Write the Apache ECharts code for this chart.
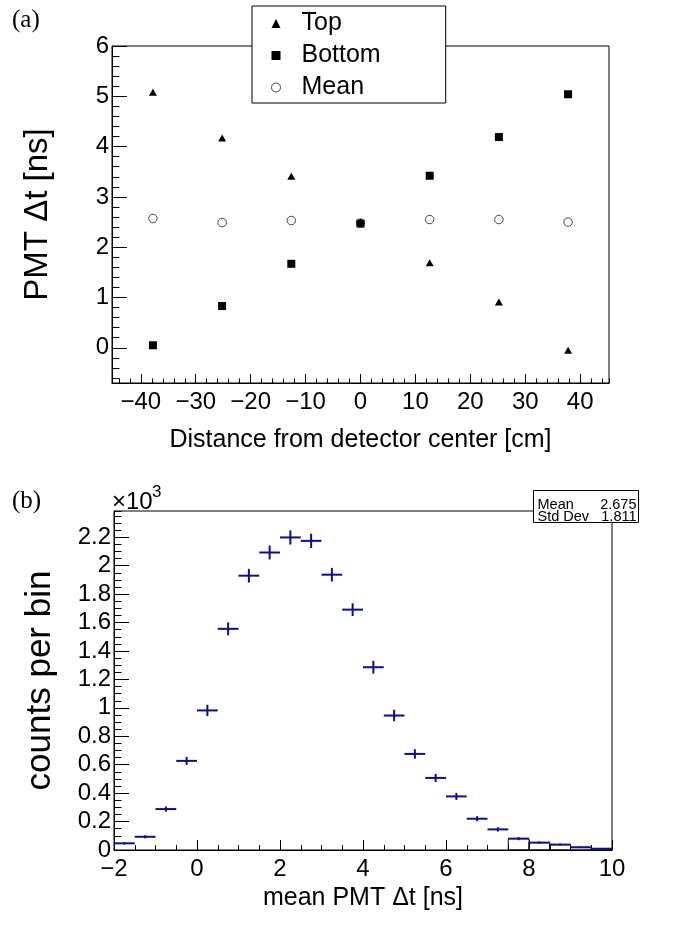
<!DOCTYPE html>
<html>
<head>
<meta charset="utf-8">
<script src="https://cdn.jsdelivr.net/npm/echarts@6/dist/echarts.min.js"></script>
<style>html,body{margin:0;padding:0;background:#fff}#c{width:685px;height:925px}</style>
</head>
<body>
<div id="c"></div>
<script>
// ---- Panel (a) data ----
const positions = [-37.8, -25.2, -12.6, 0, 12.6, 25.2, 37.8];
const topDt     = [5.08, 4.17, 3.41, 2.50, 1.69, 0.91, -0.05];
const bottomDt  = [0.05, 0.83, 1.67, 2.47, 3.42, 4.19, 5.04];
const meanDt    = [2.57, 2.49, 2.53, 2.48, 2.55, 2.55, 2.50];
const seriesNames = ['Top', 'Bottom', 'Mean'];

// ---- Panel (b) data (counts in units of 10^3) ----
const binCenters = [-1.75,-1.25,-0.75,-0.25,0.25,0.75,1.25,1.75,2.25,2.75,3.25,3.75,4.25,4.75,5.25,5.75,6.25,6.75,7.25,7.75,8.25,8.75,9.25,9.75];
const counts     = [0.047,0.093,0.288,0.627,0.982,1.556,1.930,2.093,2.199,2.175,1.937,1.691,1.286,0.946,0.676,0.507,0.377,0.220,0.145,0.080,0.052,0.038,0.019,0.009];
const countErrs  = [0.008,0.011,0.018,0.028,0.040,0.045,0.048,0.049,0.050,0.050,0.048,0.045,0.045,0.040,0.033,0.029,0.025,0.018,0.015,0.011,0.008,0.007,0.005,0.004];
const outlineCenters = [7.75, 8.25, 8.75, 9.25, 9.75];
const binWidth = 0.5;
const statsLabels = ['Mean', 'Std Dev'];
const statsValues = ['2.675', '1.811'];

const FONT = 'Liberation Sans';
const BLUE = '#0d0d8f';
const minus = v => String(v).replace('-', '\u2212');

const chart = echarts.init(document.getElementById('c'), null, {renderer: 'canvas'});

const tickLbl = (extra) => Object.assign({
  color: '#000', fontFamily: FONT, fontSize: 24
}, extra);

function mainAxis(base) {
  return Object.assign({
    type: 'value', scale: false,
    axisLine: {show: true, onZero: false, lineStyle: {color: '#000', width: 1}},
    splitLine: {show: false},
    minorTick: {show: false}
  }, base);
}
function minorAxis(base) {
  return Object.assign({
    type: 'value',
    axisLine: {show: false, onZero: false},
    axisLabel: {show: false},
    splitLine: {show: false}
  }, base);
}

const histData = binCenters.map((c, i) => [c, counts[i], countErrs[i]]);
const outlineData = outlineCenters.map(c => [c, counts[binCenters.indexOf(c)]]);

const option = {
  backgroundColor: '#fff',
  animation: false,
  grid: [
    {left: 112, top: 46, width: 497, height: 337, show: true, borderColor: '#000', borderWidth: 1, backgroundColor: 'transparent'},
    {left: 114, top: 511, width: 498, height: 339, show: true, borderColor: '#000', borderWidth: 1, backgroundColor: 'transparent'}
  ],
  xAxis: [
    mainAxis({gridIndex: 0, position: 'bottom', min: -45.25, max: 45.25, splitNumber: 9,
      axisTick: {show: true, inside: true, length: 9, lineStyle: {color: '#000', width: 1}},
      axisLabel: tickLbl({margin: 7, showMinLabel: false, showMaxLabel: false, formatter: minus}),
      name: 'Distance from detector center [cm]', nameLocation: 'middle', nameGap: 45,
      nameTextStyle: {color: '#000', fontFamily: FONT, fontSize: 25}}),
    minorAxis({gridIndex: 0, position: 'bottom', min: -45.25, max: 45.25, splitNumber: 45,
      axisTick: {show: true, inside: true, length: 4.5, lineStyle: {color: '#000', width: 1}}}),
    mainAxis({gridIndex: 1, position: 'bottom', min: -2, max: 10, interval: 2,
      axisTick: {show: true, inside: true, length: 10, lineStyle: {color: '#000', width: 1}},
      axisLabel: tickLbl({margin: 7, formatter: minus}),
      name: 'mean PMT \u0394t [ns]', nameLocation: 'middle', nameGap: 36,
      nameTextStyle: {color: '#000', fontFamily: FONT, fontSize: 25}}),
    minorAxis({gridIndex: 1, position: 'bottom', min: -2, max: 10, interval: 0.5,
      axisTick: {show: true, inside: true, length: 5, lineStyle: {color: '#000', width: 1}}})
  ],
  yAxis: [
    mainAxis({gridIndex: 0, position: 'left', min: -0.7, max: 6, splitNumber: 7,
      axisTick: {show: true, inside: true, length: 15, lineStyle: {color: '#000', width: 1}},
      axisLabel: tickLbl({margin: 3, showMinLabel: false, formatter: minus}),
      name: 'PMT \u0394t [ns]', nameLocation: 'middle', nameGap: 58,
      nameTextStyle: {color: '#000', fontFamily: FONT, fontSize: 33}}),
    minorAxis({gridIndex: 0, position: 'left', min: -0.7, max: 6, splitNumber: 33,
      axisTick: {show: true, inside: true, length: 7.5, lineStyle: {color: '#000', width: 1}}}),
    mainAxis({gridIndex: 1, position: 'left', min: 0, max: 2.385, interval: 0.2,
      axisTick: {show: true, inside: true, length: 15, lineStyle: {color: '#000', width: 1}},
      axisLabel: tickLbl({margin: 3, showMaxLabel: false, formatter: v => String(Math.round(v * 10) / 10)}),
      name: 'counts per bin', nameLocation: 'middle', nameGap: 56,
      nameTextStyle: {color: '#000', fontFamily: FONT, fontSize: 35}}),
    minorAxis({gridIndex: 1, position: 'left', min: 0, max: 2.385, interval: 0.05,
      axisTick: {show: true, inside: true, length: 7.5, lineStyle: {color: '#000', width: 1}}})
  ],
  legend: {
    show: true, orient: 'vertical', left: 252, top: 6,
    data: seriesNames,
    backgroundColor: '#fff', borderColor: '#000', borderWidth: 1, borderRadius: 0,
    padding: [5, 65, 3, 19],
    itemWidth: 9, itemHeight: 9, itemGap: 7, itemStyle: {borderWidth: 1},
    textStyle: {color: '#000', fontFamily: FONT, fontSize: 25, lineHeight: 25, padding: [0, 0, 0, 16]},
    selectedMode: false
  },
  series: [
    {name: 'Mean', type: 'scatter', xAxisIndex: 0, yAxisIndex: 0, z: 2,
      symbol: 'circle', symbolSize: 8.5,
      itemStyle: {color: '#fff', borderColor: '#444', borderWidth: 1, opacity: 1},
      data: positions.map((x, i) => [x, meanDt[i]])},
    {name: 'Top', type: 'scatter', xAxisIndex: 0, yAxisIndex: 0, z: 3,
      symbol: 'triangle', symbolSize: [8, 7],
      itemStyle: {color: '#000', opacity: 1},
      data: positions.map((x, i) => [x, topDt[i]])},
    {name: 'Bottom', type: 'scatter', xAxisIndex: 0, yAxisIndex: 0, z: 4,
      symbol: 'rect', symbolSize: 8,
      itemStyle: {color: '#000', opacity: 1},
      data: positions.map((x, i) => [x, bottomDt[i]])},
    {name: 'outline', type: 'custom', xAxisIndex: 2, yAxisIndex: 2, z: 3, silent: true,
      encode: {x: 0, y: 1},
      data: outlineData,
      renderItem(params, api) {
        const c = api.value(0), v = api.value(1);
        const p0 = api.coord([c - binWidth / 2, v]);
        const p1 = api.coord([c + binWidth / 2, 0]);
        return {type: 'rect', shape: {x: p0[0], y: p0[1], width: p1[0] - p0[0], height: p1[1] - p0[1]},
          style: {fill: 'none', stroke: '#000', lineWidth: 1}};
      }},
    {name: 'hist', type: 'custom', xAxisIndex: 2, yAxisIndex: 2, z: 5, silent: true,
      encode: {x: 0, y: 1},
      data: histData,
      renderItem(params, api) {
        const c = api.value(0), v = api.value(1), e = api.value(2);
        const pl = api.coord([c - binWidth / 2, v]);
        const pr = api.coord([c + binWidth / 2, v]);
        const pt = api.coord([c, v + e]);
        const pb = api.coord([c, v - e]);
        const st = {stroke: BLUE, lineWidth: 2};
        return {type: 'group', children: [
          {type: 'line', shape: {x1: pl[0], y1: pl[1], x2: pr[0], y2: pr[1]}, style: st},
          {type: 'line', shape: {x1: pt[0], y1: pt[1], x2: pb[0], y2: pb[1]}, style: st}
        ]};
      }}
  ],
  graphic: [
    {type: 'text', left: 12, top: 8, style: {text: '(a)', font: '25px "Liberation Serif"', fill: '#000'}},
    {type: 'text', left: 12, top: 489, style: {text: '(b)', font: '25px "Liberation Serif"', fill: '#000'}},
    {type: 'text', left: 112, top: 490, style: {text: '\u00d710', font: '24px "Liberation Sans"', fill: '#000'}},
    {type: 'text', left: 152, top: 484, style: {text: '3', font: '17px "Liberation Sans"', fill: '#000'}},
    {type: 'group', left: 533, top: 490, z: 100, children: [
      {type: 'rect', shape: {x: 0, y: 0, width: 105, height: 32}, style: {fill: '#fff', stroke: '#000', lineWidth: 1}},
      {type: 'text', x: 4, y: 14.5, style: {text: statsLabels[0], font: '14.5px "Liberation Sans"', fill: '#000', verticalAlign: 'middle'}},
      {type: 'text', x: 103, y: 14.5, style: {text: statsValues[0], font: '14.5px "Liberation Sans"', fill: '#000', align: 'right', verticalAlign: 'middle'}},
      {type: 'text', x: 4, y: 26.5, style: {text: statsLabels[1], font: '14.5px "Liberation Sans"', fill: '#000', verticalAlign: 'middle'}},
      {type: 'text', x: 103, y: 26.5, style: {text: statsValues[1], font: '14.5px "Liberation Sans"', fill: '#000', align: 'right', verticalAlign: 'middle'}}
    ]}
  ]
};
chart.setOption(option);
</script>
</body>
</html>
